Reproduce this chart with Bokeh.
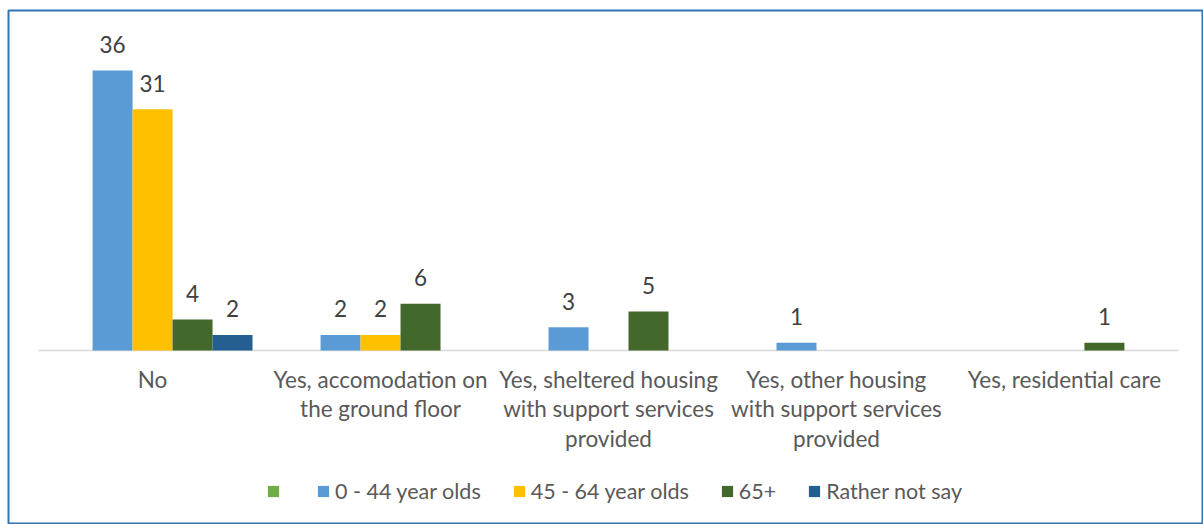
from bokeh.plotting import figure
from bokeh.models import ColumnDataSource, Range1d, Legend, LegendItem
from bokeh.transform import dodge
from bokeh.core.properties import value
from bokeh.embed import file_html
from bokeh.resources import INLINE

categories = ["No", "Yes, accomodation on\nthe ground floor",
              "Yes, sheltered housing\nwith support services\nprovided",
              "Yes, other housing\nwith support services\nprovided",
              "Yes, residential care"]
series_names = ["", "0 - 44 year olds", "45 - 64 year olds", "65+", "Rather not say"]
series_colors = ["#70AD47", "#5B9BD5", "#FFC000", "#43682B", "#255E91"]
s_blank = [None, None, None, None, None]
s_0_44 = [36, 2, 3, 1, None]
s_45_64 = [31, 2, None, None, None]
s_65 = [4, 6, 5, None, 1]
s_not_say = [2, None, None, None, None]
series_values = [s_blank, s_0_44, s_45_64, s_65, s_not_say]

FONT = "Lato"
FS = "22.5px"
idx = list(range(len(categories)))

p = figure(width=1203, height=524, output_backend="svg", toolbar_location=None,
           x_axis_type=None, y_axis_type=None,
           x_range=Range1d(-0.632, 4.61), y_range=Range1d(-22.37, 43.71),
           min_border_left=8, min_border_top=10, min_border_right=0, min_border_bottom=0)
p.grid.visible = False
p.outline_line_color = "#2E75B6"
p.outline_line_width = 2
p.background_fill_color = "white"
p.border_fill_color = "white"

# axis baseline
p.segment(x0=[idx[0] - 0.5], y0=[0], x1=[idx[-1] + 0.5], y1=[0], line_color="#D9D9D9", line_width=1.5)

bar_w = 0.1754
n = len(series_names)
items = []
for k, (name, vals, col) in enumerate(zip(series_names, series_values, series_colors)):
    off = (k - (n - 1) / 2) * bar_w
    tops = [float("nan") if v is None else v for v in vals]
    src = ColumnDataSource(dict(x=idx, top=tops))
    r = p.vbar(x=dodge("x", off, range=p.x_range), top="top", width=bar_w, bottom=0,
               source=src, fill_color=col, line_color=None)
    items.append(LegendItem(label=value(name), renderers=[r]))
    lx = [i for i, v in zip(idx, vals) if v is not None]
    ly = [v for v in vals if v is not None]
    lt = [str(v) for v in vals if v is not None]
    lsrc = ColumnDataSource(dict(x=lx, y=ly, t=lt))
    p.text(x=dodge("x", off, range=p.x_range), y="y", text="t", source=lsrc,
           text_align="center", text_baseline="alphabetic", y_offset=-26,
           text_font=value(FONT), text_font_size=FS, text_color="#404040")

# category labels (split into lines)
cx, cy, ct, coff = [], [], [], []
for i, c in zip(idx, categories):
    for j, line in enumerate(c.split("\n")):
        cx.append(i); cy.append(0); ct.append(line); coff.append(29 + 29.5 * j)
csrc = ColumnDataSource(dict(x=cx, y=cy, t=ct, off=coff))
p.text(x="x", y="y", text="t", y_offset="off", source=csrc, text_align="center",
       text_baseline="alphabetic", text_font=value(FONT), text_font_size=FS,
       text_color="#595959")

legend = Legend(items=items, orientation="horizontal", location=(258, 20),
                glyph_width=14, glyph_height=14, label_standoff=5, spacing=31,
                padding=0, margin=0, border_line_color=None, background_fill_alpha=0,
                label_text_font=FONT, label_text_font_size="21.5px", label_text_color="#595959",
                label_height=14, label_width=0)
p.add_layout(legend, "center")

open("out.html", "w").write(file_html(p, INLINE))
